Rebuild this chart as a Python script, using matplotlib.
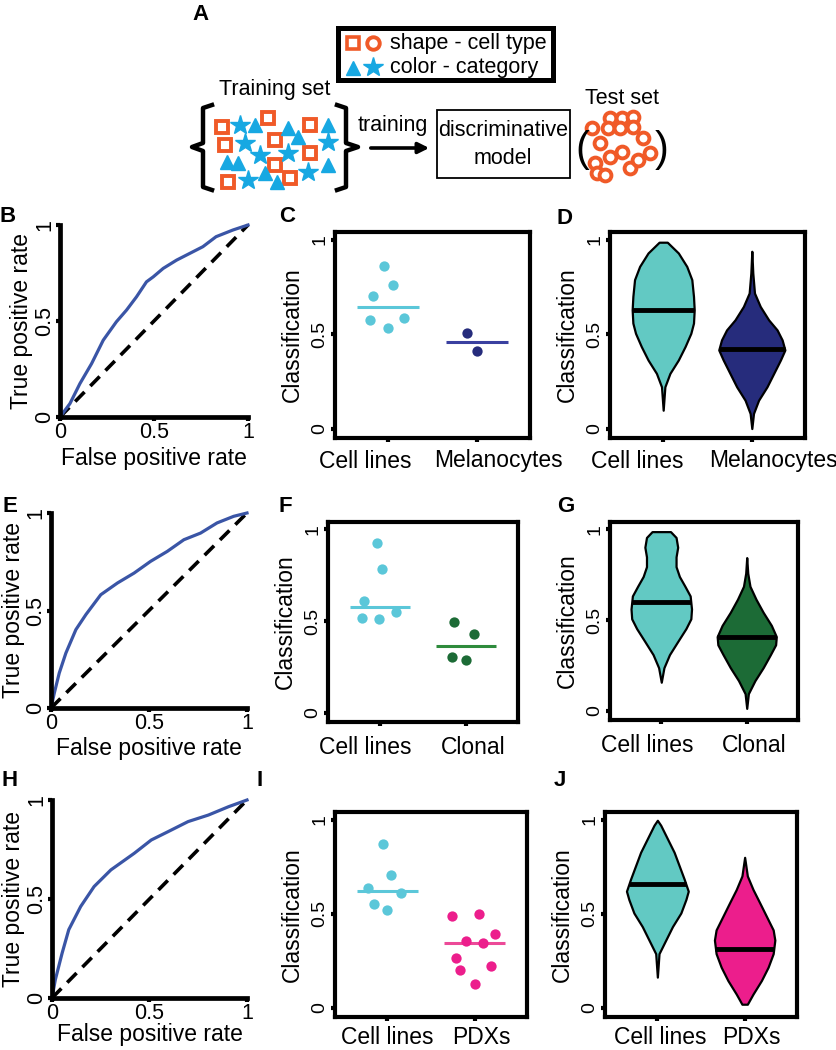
import numpy as np
import matplotlib
matplotlib.use('Agg')
import matplotlib.pyplot as plt
from matplotlib.patches import Rectangle

plt.rcParams['font.family'] = ['Liberation Sans', 'DejaVu Sans']

# ---- data ----
# ROC curves (fpr, tpr) read from panels B, E, H
roc_b_fpr = [0, 0.053, 0.106, 0.168, 0.23, 0.3, 0.354, 0.407, 0.46, 0.496, 0.549, 0.62, 0.69, 0.76, 0.83, 0.92, 1]
roc_b_tpr = [0, 0.07, 0.174, 0.278, 0.4, 0.496, 0.557, 0.626, 0.704, 0.73, 0.774, 0.817, 0.852, 0.887, 0.939, 0.974, 1]
roc_e_fpr = [0, 0.017, 0.042, 0.076, 0.127, 0.178, 0.254, 0.339, 0.424, 0.508, 0.593, 0.678, 0.763, 0.847, 0.932, 1]
roc_e_tpr = [0, 0.077, 0.179, 0.282, 0.402, 0.479, 0.581, 0.641, 0.692, 0.752, 0.803, 0.863, 0.897, 0.949, 0.983, 1]
roc_h_fpr = [0, 0.017, 0.052, 0.086, 0.147, 0.216, 0.302, 0.422, 0.509, 0.595, 0.698, 0.802, 0.905, 1]
roc_h_tpr = [0, 0.092, 0.227, 0.345, 0.462, 0.563, 0.647, 0.731, 0.798, 0.84, 0.891, 0.924, 0.966, 1]

# strip plots (values + horizontal jitter)
c_cell = [0.858, 0.758, 0.704, 0.572, 0.584, 0.531]
c_cell_jit = [-0.049, 0.057, -0.17, -0.2, 0.177, 0.0]
c_mel = [0.504, 0.411]
c_mel_jit = [-0.113, 0.0]
f_cell = [0.925, 0.785, 0.609, 0.516, 0.513, 0.548]
f_cell_jit = [-0.038, 0.027, -0.185, -0.204, -0.012, 0.192]
f_clon = [0.493, 0.427, 0.305, 0.29]
f_clon_jit = [-0.142, 0.096, -0.162, 0.0]
i_cell = [0.871, 0.705, 0.634, 0.607, 0.55, 0.521]
i_cell_jit = [-0.046, 0.038, -0.223, 0.154, -0.154, -0.008]
i_pdx = [0.4875, 0.5, 0.393, 0.354, 0.345, 0.264, 0.22, 0.202, 0.125]
i_pdx_jit = [-0.262, 0.05, 0.238, -0.096, 0.096, -0.219, 0.192, -0.165, 0.0]

# violin outlines: (classification value, half width) and medians
d_cell_y = [0.097, 0.221, 0.292, 0.363, 0.434, 0.504, 0.558, 0.628, 0.699, 0.788, 0.858, 0.929, 0.986]
d_cell_w = [0, 0.019, 0.076, 0.171, 0.247, 0.312, 0.342, 0.35, 0.342, 0.323, 0.266, 0.171, 0.046]
d_mel_y = [0.0, 0.08, 0.15, 0.221, 0.292, 0.363, 0.416, 0.469, 0.522, 0.575, 0.646, 0.717, 0.823, 0.938]
d_mel_w = [0, 0.019, 0.076, 0.171, 0.247, 0.323, 0.373, 0.342, 0.285, 0.19, 0.095, 0.03, 0.011, 0]
d_medians = [0.628, 0.421]
g_cell_y = [0.158, 0.238, 0.31, 0.382, 0.453, 0.507, 0.561, 0.633, 0.686, 0.74, 0.794, 0.848, 0.901, 0.955, 0.987]
g_cell_w = [0, 0.031, 0.096, 0.192, 0.288, 0.346, 0.354, 0.338, 0.277, 0.212, 0.173, 0.173, 0.192, 0.173, 0.108]
g_clon_y = [0.014, 0.095, 0.167, 0.238, 0.31, 0.364, 0.409, 0.471, 0.543, 0.615, 0.686, 0.758, 0.844]
g_clon_w = [0, 0.019, 0.096, 0.192, 0.277, 0.338, 0.346, 0.288, 0.192, 0.108, 0.038, 0.012, 0]
g_medians = [0.6, 0.409]
j_cell_y = [0.162, 0.287, 0.359, 0.431, 0.503, 0.575, 0.619, 0.682, 0.754, 0.826, 0.898, 0.97, 0.996]
j_cell_w = [0, 0.019, 0.096, 0.173, 0.269, 0.327, 0.354, 0.308, 0.25, 0.192, 0.115, 0.038, 0]
j_pdx_y = [0.018, 0.072, 0.144, 0.215, 0.287, 0.359, 0.413, 0.485, 0.557, 0.628, 0.7, 0.799]
j_pdx_w = [0.031, 0.096, 0.192, 0.269, 0.327, 0.346, 0.327, 0.25, 0.173, 0.096, 0.031, 0]
j_medians = [0.655, 0.314]

# schematic symbols in panel A (pixel positions)
train_squares = [(222, 127), (268, 118), (310, 125), (225, 145), (275, 140), (310, 153), (275, 165), (228, 182), (290, 178)]
train_stars = [(240, 125), (245, 143), (260, 155), (288, 153), (328, 142), (248, 180), (308, 172)]
train_tris = [(255, 125), (288, 128), (298, 137), (328, 125), (227, 162), (238, 163), (265, 173), (277, 182), (328, 165)]
test_circles = [(610, 118), (622, 118), (633, 117), (608, 128), (620, 128), (633, 127), (592, 128), (643, 138),
                (600, 143), (622, 152), (610, 157), (595, 163), (597, 173), (605, 175), (630, 168), (638, 160), (650, 153)]

ORANGE = '#F05A28'
BLUE = '#17A8E2'
CYAN_DOT = '#5BC7D9'
CYAN_VIO = '#62C9C3'
NAVY = '#262C7C'
GREEN = '#1C6B36'
PINK = '#EC1E8C'

fig = plt.figure(figsize=(8.37, 10.5), dpi=100)
W, H = 837.0, 1050.0


def rect(x0, y0, x1, y1):
    return [x0 / W, 1 - y1 / H, (x1 - x0) / W, (y1 - y0) / H]


# ---- panel A and letters on an overlay in pixel coordinates ----
ov = fig.add_axes([0, 0, 1, 1])
ov.set_xlim(0, W)
ov.set_ylim(H, 0)
ov.axis('off')

ov.add_patch(Rectangle((338, 28), 215, 52, fill=False, lw=3.6, ec='black'))
ov.plot([353], [43], 's', ms=9, mfc='white', mec=ORANGE, mew=2.6)
ov.plot([373], [43], 'o', ms=9, mfc='white', mec=ORANGE, mew=2.8)
ov.plot([353], [68], '^', ms=10, color=BLUE)
ov.plot([373], [67], '*', ms=15, color=BLUE)
ov.text(390, 43, 'shape - cell type', fontsize=15.5, va='center', ha='left')
ov.text(390, 68, 'color - category', fontsize=15.5, va='center', ha='left')

ov.text(275, 90, 'Training set', fontsize=15.5, ha='center', va='center')
ov.plot([212, 203, 203, 192, 203, 203, 212], [105, 108, 143, 147, 151, 187, 190], color='black', lw=3.2,
        solid_joinstyle='round')
ov.plot([337, 346, 346, 358, 346, 346, 337], [105, 108, 143, 147, 151, 187, 190], color='black', lw=3.2,
        solid_joinstyle='round')
for x, y in train_squares:
    ov.plot(x, y, 's', ms=9, mfc='white', mec=ORANGE, mew=2.8)
for x, y in train_tris:
    ov.plot(x, y, '^', ms=9.5, color=BLUE)
for x, y in train_stars:
    ov.plot(x, y, '*', ms=15, color=BLUE)

ov.text(393, 125, 'training', fontsize=15.5, ha='center', va='center')
ov.annotate('', xy=(432, 148), xytext=(368, 148),
            arrowprops=dict(arrowstyle='-|>', lw=2.6, color='black', mutation_scale=16))
ov.add_patch(Rectangle((437, 110), 133, 68, fill=False, lw=1.3, ec='black'))
ov.text(503, 130, 'discriminative', fontsize=15.5, ha='center', va='center')
ov.text(503, 158, 'model', fontsize=15.5, ha='center', va='center')

ov.text(622, 98, 'Test set', fontsize=15.5, ha='center', va='center')
ov.text(582, 150, '(', fontsize=30, ha='center', va='center')
ov.text(662, 150, ')', fontsize=30, ha='center', va='center')
for x, y in test_circles:
    ov.plot(x, y, 'o', ms=8.5, mfc='white', mec=ORANGE, mew=2.8)

letters = {'A': (201, 15), 'B': (8, 217), 'C': (287, 217), 'D': (565, 218), 'E': (10, 506), 'F': (285, 507),
           'G': (566, 507), 'H': (10, 780), 'I': (260, 780), 'J': (560, 780)}
for k, (x, y) in letters.items():
    ov.text(x, y, k, fontsize=16, fontweight='bold', ha='center', va='center')


# ---- ROC panels ----
def roc_panel(r, fpr, tpr, ylab_dx, xlab_dy):
    ax = fig.add_axes(r)
    wpx, hpx = r[2] * W, r[3] * H
    ax.plot([0, 1], [0, 1], color='black', lw=2.6, dashes=(3.7, 2.3), clip_on=False)
    ax.plot(fpr, tpr, color='#3A55A6', lw=2.3, clip_on=False)
    ax.set_xlim(0, 1)
    ax.set_ylim(0, 1)
    for s in ['top', 'right']:
        ax.spines[s].set_visible(False)
    for s in ['left', 'bottom']:
        ax.spines[s].set_linewidth(3.4)
    ax.set_xticks([0, 0.5, 1])
    ax.set_xticklabels(['0', '0.5', '1'])
    ax.set_yticks([0, 0.5, 1])
    ax.set_yticklabels(['0', '0.5', '1'], rotation=90, va='center')
    ax.tick_params(labelsize=15.5, length=3, width=3, pad=0.5)
    ax.set_xlabel('False positive rate', fontsize=16.5, va='center')
    ax.set_ylabel('True positive rate', fontsize=16.5, va='center')
    ax.yaxis.set_label_coords(ylab_dx / wpx, 0.5)
    ax.xaxis.set_label_coords(0.5, -xlab_dy / hpx)
    return ax


def class_axes(r, names, label_x, label_dy):
    ax = fig.add_axes(r)
    wpx = r[2] * W
    ax.set_xlim(0.4, 2.6)
    ax.set_ylim(-0.05, 1.04)
    for s in ax.spines.values():
        s.set_linewidth(3)
    ax.set_xticks([1, 2])
    ax.set_xticklabels(['', ''])
    for name, lx in zip(names, label_x):
        ax.annotate(name, xy=(lx, 0), xycoords=('data', 'axes fraction'), xytext=(0, -label_dy),
                    textcoords='offset pixels', ha='center', va='center', fontsize=16.5)
    ax.set_yticks([0, 0.5, 1])
    ax.set_yticklabels(['0', '0.5', '1'], rotation=90, va='center')
    ax.tick_params(axis='y', labelsize=14, length=3, width=3, pad=2)
    ax.tick_params(axis='x', length=3, width=3)
    ax.set_ylabel('Classification', fontsize=16.5, va='center')
    ax.yaxis.set_label_coords(-43 / wpx, 0.5)
    return ax


def strip_panel(r, names, label_x, label_dy, groups, jitters, dot_colors, line_colors):
    ax = class_axes(r, names, label_x, label_dy)
    for i in range(len(groups)):
        vals = np.array(groups[i])
        xs = i + 1 + np.array(jitters[i])
        ax.scatter(xs, vals, s=55, color=dot_colors[i], lw=0, zorder=3)
        ax.hlines(np.median(vals), i + 1 - 0.35, i + 1 + 0.35, color=line_colors[i], lw=2.2, zorder=2)
    return ax


def violin_panel(r, names, label_x, label_dy, ys, ws, medians, colors):
    ax = class_axes(r, names, label_x, label_dy)
    for i in range(len(ys)):
        y = np.array(ys[i])
        w = np.array(ws[i])
        ax.fill_betweenx(y, i + 1 - w, i + 1 + w, facecolor=colors[i], edgecolor='black', lw=1.6)
        mw = np.interp(medians[i], y, w)
        ax.hlines(medians[i], i + 1 - mw, i + 1 + mw, color='black', lw=3.5)
    return ax


roc_panel(rect(60, 225, 248, 417), roc_b_fpr, roc_b_tpr, -38, 41)
roc_panel(rect(51, 513, 247, 708), roc_e_fpr, roc_e_tpr, -37, 40)
roc_panel(rect(52, 800, 247, 998), roc_h_fpr, roc_h_tpr, -38, 37)

strip_panel(rect(335, 232, 530, 438), ['Cell lines', 'Melanocytes'], [0.74, 2.24], 23,
            [c_cell, c_mel], [c_cell_jit, c_mel_jit], [CYAN_DOT, NAVY], [CYAN_DOT, '#3A40A0'])
strip_panel(rect(328, 522, 518, 722), ['Cell lines', 'Clonal'], [0.83, 2.08], 26,
            [f_cell, f_clon], [f_cell_jit, f_clon_jit], [CYAN_DOT, GREEN], [CYAN_DOT, '#2E8B3C'])
strip_panel(rect(335, 812, 527, 1017), ['Cell lines', 'PDXs'], [1.0, 2.08], 20,
            [i_cell, i_pdx], [i_cell_jit, i_pdx_jit], [CYAN_DOT, PINK], [CYAN_DOT, '#EC4A98'])

violin_panel(rect(610, 232, 805, 438), ['Cell lines', 'Melanocytes'], [0.71, 2.24], 23,
             [d_cell_y, d_mel_y], [d_cell_w, d_mel_w], d_medians, [CYAN_VIO, NAVY])
violin_panel(rect(610, 522, 798, 720), ['Cell lines', 'Clonal'], [0.84, 2.09], 26,
             [g_cell_y, g_clon_y], [g_cell_w, g_clon_w], g_medians, [CYAN_VIO, GREEN])
violin_panel(rect(605, 812, 797, 1017), ['Cell lines', 'PDXs'], [1.03, 2.08], 20,
             [j_cell_y, j_pdx_y], [j_cell_w, j_pdx_w], j_medians, [CYAN_VIO, PINK])

fig.savefig('out.png', dpi=100)
